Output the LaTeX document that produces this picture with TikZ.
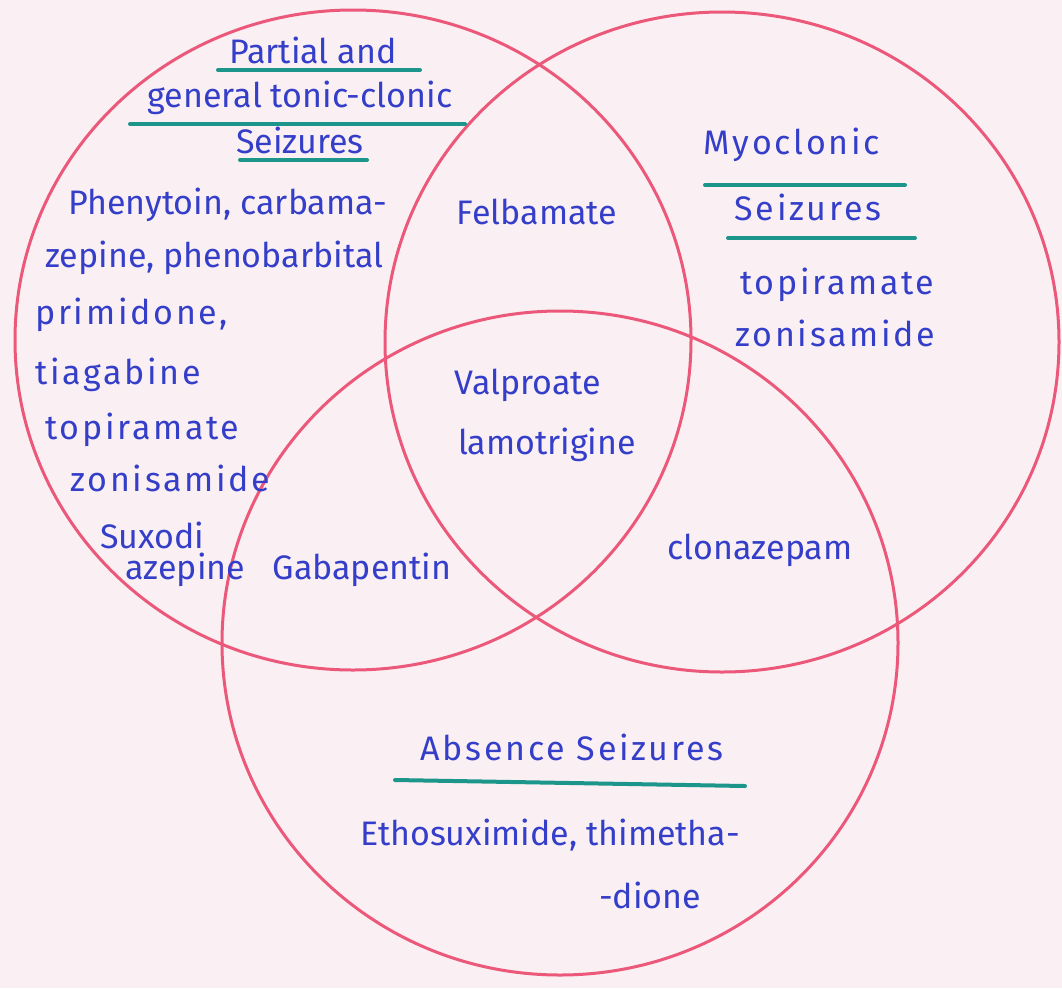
\documentclass[tikz,border=0pt]{standalone}
\usepackage{fontspec}
\setmainfont{Fira Sans}
\definecolor{paper}{RGB}{250,240,244}
\definecolor{ring}{RGB}{236,88,122}
\definecolor{ink}{RGB}{52,62,200}
\definecolor{teal}{RGB}{28,150,138}
\tikzset{
  ring/.style={draw=ring,line width=3pt},
  txt/.style={text=ink,font=\fontsize{34}{36}\selectfont,inner sep=0pt},
  wide/.style={txt,font=\fontsize{34}{36}\addfontfeatures{LetterSpace=8}},
  lt/.style={txt,anchor=west},
  uline/.style={draw=teal,line width=4pt,line cap=round}
}
\begin{document}
\begin{tikzpicture}[x=1pt,y=-1pt]
\fill[paper] (0,0) rectangle (1062,988);
\useasboundingbox (0,0) rectangle (1062,988);
% circles
\draw[ring] (353,340) ellipse [x radius=338,y radius=330];
\draw[ring] (722,342) ellipse [x radius=337,y radius=330];
\draw[ring] (560,643) ellipse [x radius=338,y radius=332];
% left set title
\node[txt] (t1) at (313,50) {Partial and};
\node[txt] (t2) at (300,98) {general tonic-clonic};
\node[txt] (t3) at (300,140) {Seizures};
\draw[uline] (218,70) -- (420,70);
\draw[uline] (130,124) -- (465,124);
\draw[uline] (240,160) -- (367,160);
% left list
\node[lt] (l1) at (68,205) {Phenytoin, carbama-};
\node[lt] (l2) at (45,258) {zepine, phenobarbital};
\node[lt,wide] (l3) at (35,315) {primidone,};
\node[lt,wide] (l4) at (35,375) {tiagabine};
\node[lt,wide] (l5) at (45,430) {topiramate};
\node[lt,wide] (l6) at (70,478) {zonisamide};
\node[lt] (l7) at (100,535) {Suxodi};
\node[lt] (l8) at (125,570) {azepine};
% right set
\node[txt,wide] (m1) at (792,145) {Myoclonic};
\node[txt,wide] (m2) at (808,207) {Seizures};
\draw[uline] (705,185) -- (905,185);
\draw[uline] (728,238) -- (915,238);
\node[lt,wide] (m3) at (740,285) {topiramate};
\node[lt,wide] (m4) at (735,333) {zonisamide};
% overlaps
\node[txt] (f) at (537,212) {Felbamate};
\node[txt] (v) at (528,385) {Valproate};
\node[txt] (la) at (547,445) {lamotrigine};
\node[txt] (g) at (362,570) {Gabapentin};
\node[txt] (c) at (760,550) {clonazepam};
% bottom set
\node[txt,wide] (a1) at (572,747) {Absence Seizures};
\draw[uline] (395,780) -- (745,786);
\node[txt] (a2) at (550,835) {Ethosuximide, thimetha-};
\node[txt] (a3) at (650,895) {-dione};
\end{tikzpicture}
\end{document}
